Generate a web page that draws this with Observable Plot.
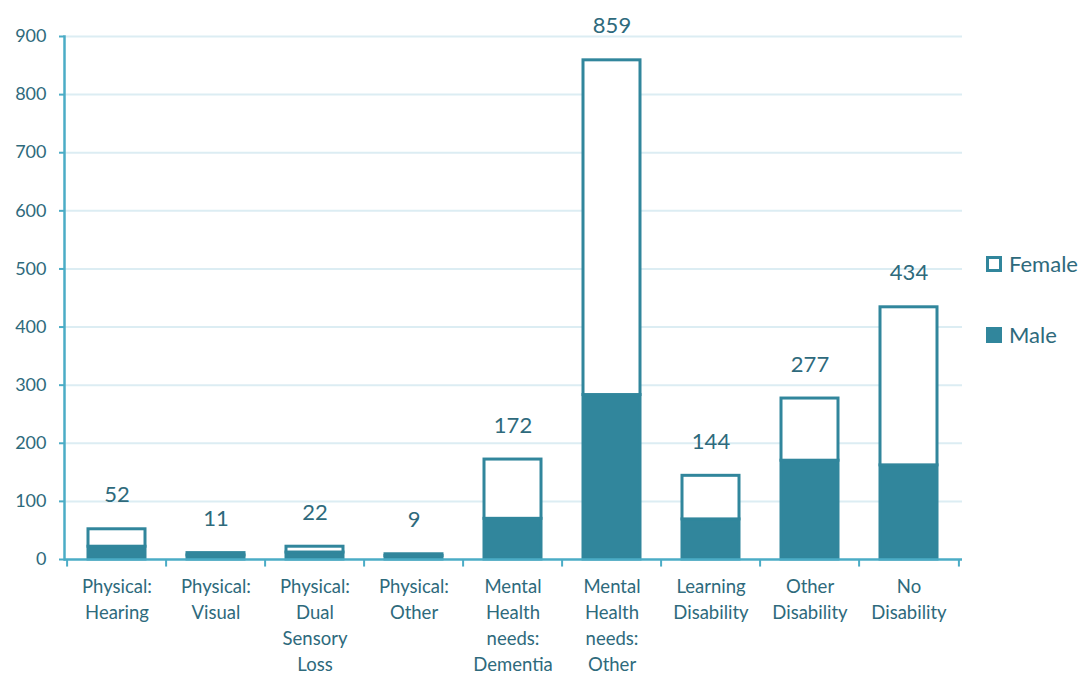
<!DOCTYPE html>
<html><head><meta charset="utf-8">
<script src="https://cdn.jsdelivr.net/npm/d3@7"></script>
<script src="https://cdn.jsdelivr.net/npm/@observablehq/plot@0.6"></script>
<style>
body{margin:0;background:#fff;font-family:Lato,"Open Sans",sans-serif;overflow:hidden;}
#wrap{position:relative;width:1091px;height:673px;}
.leg{position:absolute;left:986px;display:flex;align-items:center;font-size:22px;color:#2e6a7c;white-space:nowrap;line-height:1;}
.sw{width:10px;height:10px;border:3px solid #31869c;margin-right:7px;box-sizing:content-box;}
</style></head>
<body><div id="wrap"></div>
<script>
const categories = ["Physical:\nHearing","Physical:\nVisual","Physical:\nDual\nSensory\nLoss","Physical:\nOther","Mental\nHealth\nneeds:\nDementia","Mental\nHealth\nneeds:\nOther","Learning\nDisability","Other\nDisability","No\nDisability"];
const male   = [22, 7, 12, 6, 70, 283, 69, 170, 162];
const female = [30, 4, 10, 3, 102, 576, 75, 107, 272];
const totals = [52, 11, 22, 9, 172, 859, 144, 277, 434];
const yTicks = [0,100,200,300,400,500,600,700,800,900];
const series = ["Male","Female"];

const data = [];
categories.forEach((c,i)=>{
  data.push({cat:c, sex:"Male", v:male[i]});
  data.push({cat:c, sex:"Female", v:female[i]});
});
const totalData = categories.map((c,i)=>({cat:c, t:totals[i]}));

const col = "#31869c", txt = "#2e6a7c", axis = "#4bacc6", grid = "#dcedf3";

const chart = Plot.plot({
  width:1091, height:673,
  marginLeft:64, marginRight:129, marginTop:36, marginBottom:114,
  style:{fontFamily:"Lato, 'Open Sans', sans-serif", color:txt, background:"#fff", overflow:"visible"},
  x:{domain:categories, paddingInner:0.42, paddingOuter:0.21, axis:null},
  y:{domain:[0,900], ticks:yTicks, axis:null},
  marks:[
    Plot.ruleY(yTicks.filter(d=>d>0), {stroke:grid, strokeWidth:2}),
    Plot.axisY({ticks:yTicks, tickSize:5, tickPadding:13, stroke:axis, strokeWidth:2, fontSize:18, fill:txt, tickFormat:d=>d}),
    Plot.barY(data, Plot.stackY({x:"cat", y:"v", order:series, fill:d=>d.sex==="Male"?col:"#fff", stroke:col, strokeWidth:3})),
    Plot.ruleY([0], {stroke:axis, strokeWidth:2.5}),
    Plot.ruleX(categories, {x:d=>d, dx:-49.9, y1:0, y2:-13, stroke:axis, strokeWidth:2}),
    Plot.ruleX([categories[categories.length-1]], {x:d=>d, dx:49.9, y1:0, y2:-13, stroke:axis, strokeWidth:2}),
    Plot.frame({anchor:"left", stroke:axis, strokeWidth:2.5}),
    Plot.text(totalData, {x:"cat", y:"t", text:d=>String(d.t), dy:-34, fontSize:22, fill:txt}),
    Plot.text(categories, {x:d=>d, frameAnchor:"bottom", lineAnchor:"top", dy:15, lineHeight:1.4, text:d=>d, fontSize:18.5, fill:txt})
  ]
});
const wrap = document.getElementById("wrap");
wrap.appendChild(chart);
const leg = [["Female","#fff",253],["Male",col,324]];
leg.forEach(([n,f,t])=>{
  const d=document.createElement("div");d.className="leg";d.style.top=t+"px";
  d.innerHTML=`<span class="sw" style="background:${f}"></span><span>${n}</span>`;
  wrap.appendChild(d);
});
</script></body></html>
